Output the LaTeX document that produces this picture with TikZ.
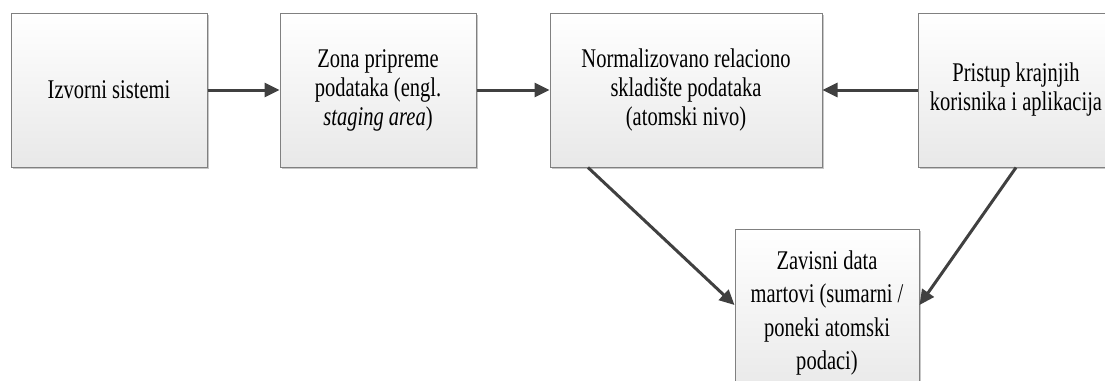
\documentclass[tikz,border=0pt]{standalone}
\usepackage{fontspec}
\setmainfont[FakeStretch=0.76]{Liberation Serif}
\usetikzlibrary{arrows.meta,shadows}

\begin{document}
\begin{tikzpicture}[
    x=1pt, y=-1pt,
    every node/.style={font=\fontsize{27}{29}\selectfont},
    block/.style={draw=black!50, line width=1pt, align=center,
        top color=white, bottom color=black!9,
        drop shadow={shadow xshift=2pt, shadow yshift=-2pt, fill=black!22, opacity=1},
        minimum height=154pt, inner sep=0pt},
    arr/.style={draw=black!75, line width=3pt, -{Triangle[length=15pt,width=14pt]}}
]
\useasboundingbox (0,0) rectangle (1105,380);

% Top row
\node[block, minimum width=196pt] (izvor) at (109,90) {Izvorni sistemi};
\node[block, minimum width=196pt] (staging) at (378,90) {Zona pripreme\\podataka (engl.\\\textit{staging area})};
\node[block, minimum width=272pt] (skladiste) at (686,90) {Normalizovano relaciono\\skladište podataka\\(atomski nivo)};
\node[block, minimum width=196pt] (pristup) at (1016,90) {Pristup krajnjih\\korisnika i aplikacija};

% Bottom
\node[block, minimum width=184pt, minimum height=168pt,
      font=\fontsize{27}{33.5}\selectfont] (martovi) at (827,313)
    {Zavisni data\\martovi (sumarni /\\poneki atomski\\podaci)};

% Edges
\draw[arr] (izvor) -- (staging);
\draw[arr] (staging) -- (skladiste);
\draw[arr] (pristup) -- (skladiste);

\draw[arr] ([xshift=-98pt]skladiste.south) -- ([yshift=8pt]martovi.west);
\draw[arr] (pristup.south) -- ([yshift=8pt]martovi.east);

\end{tikzpicture}
\end{document}
